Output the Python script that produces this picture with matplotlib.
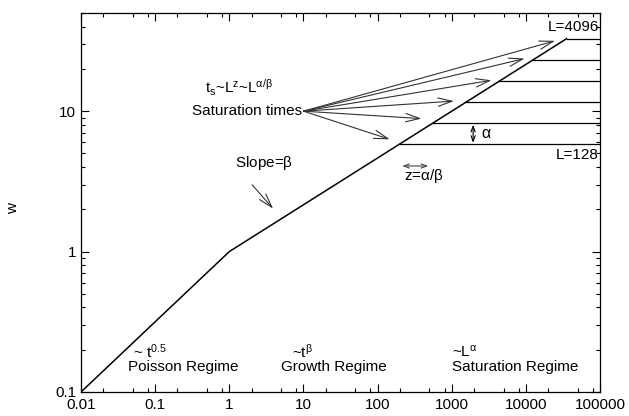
import matplotlib
matplotlib.use("Agg")
import matplotlib.pyplot as plt
from matplotlib.ticker import LogLocator, NullFormatter, FixedLocator, FixedFormatter

plt.rcParams["font.family"] = ["Liberation Sans", "DejaVu Sans"]
plt.rcParams["mathtext.fontset"] = "custom"
plt.rcParams["mathtext.rm"] = "Liberation Sans"
plt.rcParams["mathtext.it"] = "Liberation Sans"
plt.rcParams["mathtext.default"] = "regular"

# ---------------- DATA ----------------
# piecewise growth curve: Poisson -> growth -> saturation point of largest L
curve_t = [0.01, 1, 35300]
curve_w = [0.1, 1, 32.8]

# saturation plateaus for each system size
L_sizes = [128, 256, 512, 1024, 2048, 4096]
t_sat = [190, 550, 1560, 4400, 12500, 35300]
w_sat = [5.8, 8.2, 11.6, 16.4, 23.2, 32.8]

# where the "Saturation times" arrows point
tip_t = [146, 391, 1070, 3440, 9600, 24700]
tip_w = [6.3, 8.85, 11.8, 16.6, 23.7, 31.7]

x_ticks = [0.01, 0.1, 1, 10, 100, 1000, 10000, 100000]
x_labels = ["0.01", "0.1", "1", "10", "100", "1000", "10000", "100000"]
y_ticks = [0.1, 1, 10]
y_labels = ["0.1", "1", "10"]

T_MAX = 100000

# ---------------- FIGURE ----------------
fig = plt.figure(figsize=(6.29, 4.16), dpi=100)
ax = fig.add_axes([0.1288, 0.0577, 0.8252, 0.911])
ax.set_xscale("log")
ax.set_yscale("log")
ax.set_xlim(0.01, T_MAX)
ax.set_ylim(0.1, 50)

ax.plot(curve_t, curve_w, color="black", lw=1.1)
for t0, w0 in zip(t_sat, w_sat):
    ax.plot([t0, T_MAX], [w0, w0], color="black", lw=0.9)

# saturation-time arrows
arrow_kw = dict(arrowstyle="->,head_length=1.0,head_width=0.3", color="#333333", lw=0.8,
                shrinkA=0, shrinkB=0)
for tt, ww in zip(tip_t, tip_w):
    ax.annotate("", xy=(tt, ww), xytext=(10, 10), arrowprops=arrow_kw)

# slope arrow
ax.annotate("", xy=(3.9, 2.02), xytext=(2.03, 2.99), arrowprops=arrow_kw)

# alpha spacing arrow
dbl_kw = dict(arrowstyle="<->,head_length=0.4,head_width=0.15", color="black", lw=0.8,
              shrinkA=0, shrinkB=0)
ax.annotate("", xy=(1940, 8.0), xytext=(1940, 5.95), arrowprops=dbl_kw)
ax.text(2450, 6.95, r"$\alpha$", fontsize=11.5, va="center", ha="left")

# z arrow
ax.annotate("", xy=(482, 4.07), xytext=(215, 4.07),
             arrowprops=dict(arrowstyle="<->,head_length=0.4,head_width=0.15",
                             color="#444444", lw=0.8, shrinkA=0, shrinkB=0))
fs = 11
ax.text(420, 3.45, r"z=$\alpha/\beta$", fontsize=fs, ha="center", va="center")

ax.text(0.47, 14.6, r"t$_s$~L$^z$~L$^{\alpha/\beta}$", fontsize=fs, ha="left", va="center")
ax.text(9.5, 10, "Saturation times", fontsize=fs, ha="right", va="center")
ax.text(2.95, 4.27, r"Slope=$\beta$", fontsize=fs, ha="center", va="center")
ax.text(96000, 39.5, "L=4096", fontsize=fs, ha="right", va="center")
ax.text(96000, 4.87, "L=128", fontsize=fs, ha="right", va="center")

ax.text(0.05, 0.195, r"~ t$^{0.5}$", fontsize=fs, ha="left", va="center")
ax.text(0.24, 0.150, "Poisson Regime", fontsize=fs, ha="center", va="center")
ax.text(7.0, 0.195, r"~t$^{\beta}$", fontsize=fs, ha="left", va="center")
ax.text(26, 0.150, "Growth Regime", fontsize=fs, ha="center", va="center")
ax.text(1020, 0.195, r"~L$^{\alpha}$", fontsize=fs, ha="left", va="center")
ax.text(7200, 0.150, "Saturation Regime", fontsize=fs, ha="center", va="center")

# ---------------- AXES STYLE ----------------
ax.xaxis.set_major_locator(FixedLocator(x_ticks))
ax.xaxis.set_major_formatter(FixedFormatter(x_labels))
ax.yaxis.set_major_locator(FixedLocator(y_ticks))
ax.yaxis.set_major_formatter(FixedFormatter(y_labels))
ax.xaxis.set_minor_locator(LogLocator(base=10, subs=(2, 5, 8), numticks=20))
ax.yaxis.set_minor_locator(LogLocator(base=10, subs=range(2, 10), numticks=20))
ax.xaxis.set_minor_formatter(NullFormatter())
ax.yaxis.set_minor_formatter(NullFormatter())
ax.tick_params(which="both", direction="in", top=True, right=True, labelsize=fs, width=0.8)
ax.tick_params(which="major", length=6)
ax.tick_params(axis="x", which="major", pad=4)
ax.tick_params(which="minor", length=3)
for s in ax.spines.values():
    s.set_linewidth(0.9)

fig.text(0.02, 0.5, "w", rotation=90, fontsize=fs, ha="center", va="center")

fig.savefig("out.png", dpi=100)
